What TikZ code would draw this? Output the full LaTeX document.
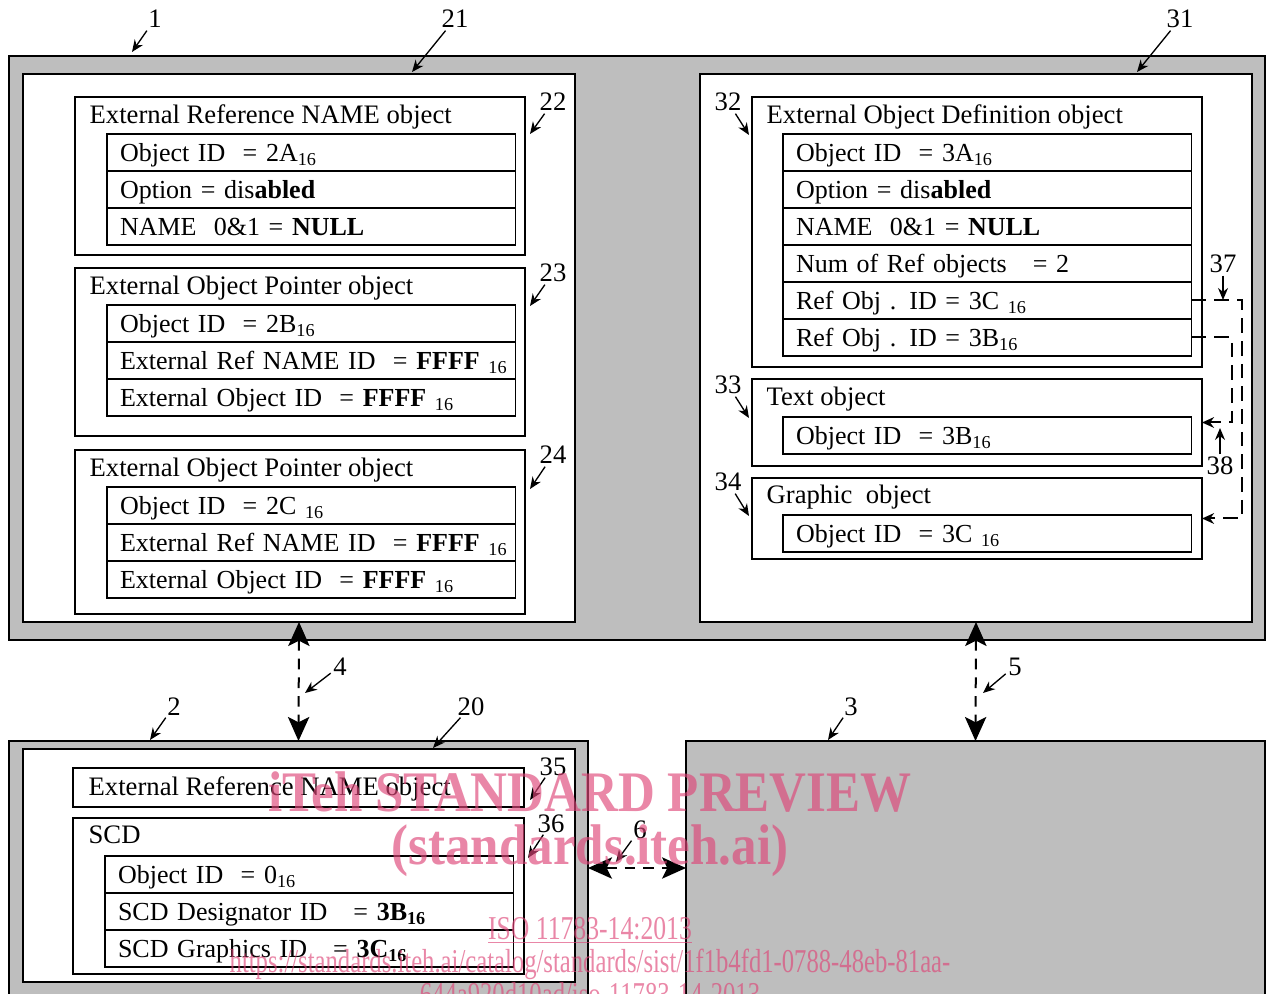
\documentclass[tikz,border=0pt]{standalone}
\usepackage{fontspec}
\setmainfont{Liberation Serif}
\usepackage{graphicx}
\usepackage{tikz}
\usetikzlibrary{positioning,arrows.meta}
\definecolor{boxgray}{RGB}{190,190,190}
\definecolor{wmpink}{RGB}{222,70,120}
\newcommand{\sixteen}{\textsubscript{16}}

\begin{document}
\begin{tikzpicture}[x=0.75pt,y=-0.75pt,line width=1pt,
    font=\fontsize{20}{24}\selectfont,
    grybox/.style 2 args={draw,fill=boxgray,outer sep=0pt,inner sep=0pt,anchor=north west,
        minimum width={#1*0.75pt},minimum height={#2*0.75pt}},
    whtbox/.style 2 args={grybox={#1}{#2},fill=white},
    fld/.style={draw,outer sep=0pt,inner xsep=9.75pt,inner ysep=0pt,minimum height=27.75pt,
        text width=287pt,align=left,text height=15pt,text depth=1.8pt,font=\fontsize{19.5}{24}\selectfont},
    ttl/.style={anchor=west,inner sep=0pt,text height=15pt,text depth=1.8pt},
    num/.style={inner sep=1.5pt,text height=13.5pt,text depth=0pt},
    lbl/.style={-{Stealth[length=9pt,width=7.5pt]},line width=1pt},
    refarr/.style={-{Stealth[length=9pt,width=8pt]},line width=1.5pt,dash pattern=on 11pt off 6pt},
    bigarr/.style={{Stealth[length=18pt,width=16pt,inset=4pt]}-{Stealth[length=18pt,width=16pt,inset=4pt]},
        line width=1.5pt,dash pattern=on 8pt off 6pt},
    wmark/.style={text=wmpink,text opacity=0.65,inner sep=0pt}]
\useasboundingbox (0,0) rectangle (1267,994);

    %system boxes
    \draw (9,56) node(b1) [grybox={1256}{584}] {}
          (9,741) node(b2) [grybox={579}{270}] {}
          (686,741) node(b3) [grybox={579}{270}] {};
    \draw (23,74) node(b21) [whtbox={552}{548}] {}
          (700,74) node(b31) [whtbox={552}{548}] {}
          (23,749) node(b20) [whtbox={552}{233}] {};

    %working set 21
    \draw (75,97) node(b22) [whtbox={450}{158}] {}
          (89,115) node(t22) [ttl] {External Reference NAME object}
          (107,134) node(r22a) [fld,anchor=north west] {Object ID~~= 2A\sixteen};
    \node(r22b) [fld,below=0pt of r22a] {Option = dis\textbf{abled}};
    \node(r22c) [fld,below=0pt of r22b] {NAME~~0\&1 = \textbf{NULL}};

    \draw (75,268) node(b23) [whtbox={450}{168}] {}
          (89,286) node(t23) [ttl] {External Object Pointer object}
          (107,305) node(r23a) [fld,anchor=north west] {Object ID~~= 2B\sixteen};
    \node(r23b) [fld,below=0pt of r23a] {External~Ref~NAME~ID~~=~\textbf{FFFF}~\sixteen};
    \node(r23c) [fld,below=0pt of r23b] {External~Object~ID~~=~\textbf{FFFF}~\sixteen};

    \draw (75,450) node(b24) [whtbox={450}{164}] {}
          (89,468) node(t24) [ttl] {External Object Pointer object}
          (107,487) node(r24a) [fld,anchor=north west] {Object ID~~= 2C \sixteen};
    \node(r24b) [fld,below=0pt of r24a] {External~Ref~NAME~ID~~=~\textbf{FFFF}~\sixteen};
    \node(r24c) [fld,below=0pt of r24b] {External~Object~ID~~=~\textbf{FFFF}~\sixteen};

    %working set 31
    \draw (752,97) node(b32) [whtbox={450}{270}] {}
          (766,115) node(t32) [ttl] {External Object Definition object}
          (783,134) node(r32a) [fld,anchor=north west] {Object ID~~= 3A\sixteen};
    \node(r32b) [fld,below=0pt of r32a] {Option = dis\textbf{abled}};
    \node(r32c) [fld,below=0pt of r32b] {NAME~~0\&1 = \textbf{NULL}};
    \node(r32d) [fld,below=0pt of r32c] {Num of Ref objects~~~= 2};
    \node(r32e) [fld,below=0pt of r32d] {Ref Obj . ID = 3C \sixteen};
    \node(r32f) [fld,below=0pt of r32e] {Ref Obj . ID = 3B\sixteen};

    \draw (752,379) node(b33) [whtbox={450}{87}] {}
          (766,397) node(t33) [ttl] {Text object}
          (783,417) node(r33a) [fld,anchor=north west] {Object ID~~= 3B\sixteen};

    \draw (752,478) node(b34) [whtbox={450}{81}] {}
          (766,495) node(t34) [ttl] {Graphic~~object}
          (783,515) node(r34a) [fld,anchor=north west] {Object ID~~= 3C \sixteen};

    %working set 20
    \draw (73,768) node(b35) [whtbox={451}{39}] {}
          (88,787) node(t35) [ttl] {External Reference NAME object};
    \draw (73,818) node(b36) [whtbox={451}{156}] {}
          (88,835) node(t36) [ttl] {SCD}
          (105,856) node(r36a) [fld,anchor=north west] {Object ID~~= 0\sixteen};
    \node(r36b) [fld,below=0pt of r36a] {SCD~Designator~ID~~~=~\textbf{3B\sixteen}};
    \node(r36c) [fld,below=0pt of r36b] {SCD~Graphics~ID~~~=~\textbf{3C\sixteen}};

    %references
    \draw[refarr] (r32e.east) -- ++(50,0) |- (b34.east);
    \draw[refarr] (r32f.east) -- ++(40,0) |- (b33.east);
    \coordinate (c6a) at (588,868);
    \coordinate (c6b) at (686,868);
    \draw[bigarr] (b21.south) -- (b2.north);
    \draw[bigarr] (b31.south) -- (b3.north);
    \draw[bigarr] (c6a) -- (c6b);

    %reference numbers
    \draw (155,19) node(n1) [num] {1}
          (455,19) node(n21) [num] {21}
          (1180,19) node(n31) [num] {31}
          (553,102) node(n22) [num] {22}
          (553,273) node(n23) [num] {23}
          (553,455) node(n24) [num] {24}
          (728,102) node(n32) [num] {32}
          (728,385) node(n33) [num] {33}
          (728,482) node(n34) [num] {34}
          (1223,264) node(n37) [num] {37}
          (1220,466) node(n38) [num] {38}
          (340,666) node(n4) [num] {4}
          (1015,666) node(n5) [num] {5}
          (174,706) node(n2) [num] {2}
          (471,706) node(n20) [num] {20}
          (851,706) node(n3) [num] {3}
          (553,766) node(n35) [num] {35}
          (551,823) node(n36) [num] {36}
          (640,829) node(n6) [num] {6};
    \coordinate (p1) at (132,52);   \coordinate (p21) at (412,72);
    \coordinate (p31) at (1137,72); \coordinate (p22) at (530,134);
    \coordinate (p23) at (530,306); \coordinate (p24) at (530,489);
    \coordinate (p32) at (749,135); \coordinate (p33) at (749,418);
    \coordinate (p34) at (749,516); \coordinate (p37) at (1223,300);
    \coordinate (p38) at (1220,428); \coordinate (p4) at (305,693);
    \coordinate (p5) at (983,693);  \coordinate (p2) at (150,740);
    \coordinate (p20) at (433,748); \coordinate (p3) at (828,740);
    \coordinate (p35) at (530,800); \coordinate (p36) at (528,858);
    \coordinate (p6) at (616,862);
    \draw[lbl] (n1) -- (p1);   \draw[lbl] (n21) -- (p21);
    \draw[lbl] (n31) -- (p31); \draw[lbl] (n22) -- (p22);
    \draw[lbl] (n23) -- (p23); \draw[lbl] (n24) -- (p24);
    \draw[lbl] (n32) -- (p32); \draw[lbl] (n33) -- (p33);
    \draw[lbl] (n34) -- (p34); \draw[lbl] (n37) -- (p37);
    \draw[lbl] (n38) -- (p38); \draw[lbl] (n4) -- (p4);
    \draw[lbl] (n5) -- (p5);   \draw[lbl] (n2) -- (p2);
    \draw[lbl] (n20) -- (p20); \draw[lbl] (n3) -- (p3);
    \draw[lbl] (n35) -- (p35); \draw[lbl] (n36) -- (p36);
    \draw[lbl] (n6) -- (p6);

    %watermark
    \node(wm1) [wmark,font=\fontsize{43}{43}\selectfont\bfseries] at (590,792) {\scalebox{0.89}[1]{iTeh STANDARD PREVIEW}};
    \node(wm2) [wmark,font=\fontsize{43}{43}\selectfont\bfseries] at (590,851) {\scalebox{0.89}[1]{(standards.iteh.ai)}};
    \node(wm3) [wmark,font=\fontsize{25}{25}\selectfont] at (590,930) {\scalebox{0.77}[1]{\underline{ISO 11783-14:2013}}};
    \node(wm4) [wmark,font=\fontsize{25}{25}\selectfont] at (590,964) {\scalebox{0.74}[1]{https://standards.iteh.ai/catalog/standards/sist/1f1b4fd1-0788-48eb-81aa-}};
    \node(wm5) [wmark,font=\fontsize{25}{25}\selectfont] at (590,994) {\scalebox{0.74}[1]{644a920d10ad/iso-11783-14-2013}};
\end{tikzpicture}
\end{document}
